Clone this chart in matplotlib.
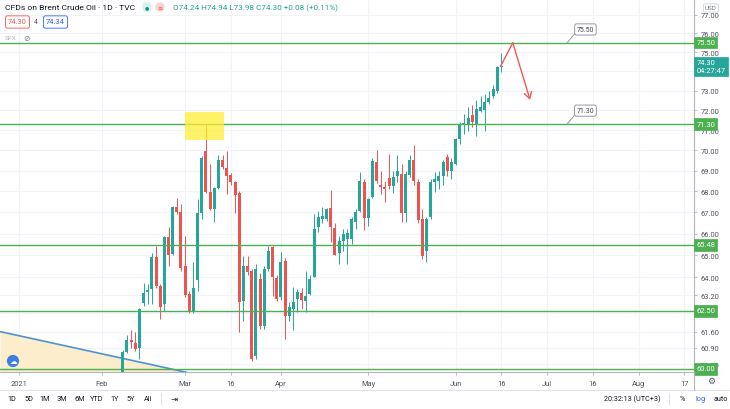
import matplotlib
matplotlib.use("Agg")
import matplotlib.pyplot as plt
import numpy as np
from matplotlib.patches import Rectangle
from matplotlib.lines import Line2D
from matplotlib.ticker import NullLocator, NullFormatter

plt.rcParams['font.family'] = ['Roboto', 'DejaVu Sans']

# Bougies journalières, index 0 = 8 fév. 2021, dernier = 16 juin 2021
opens = [59.55, 60.72, 61.25, 61.10, 60.88, 62.85, 63.33, 63.48, 64.92, 63.63,
         62.81, 65.84, 65.07, 67.24, 67.03, 64.53, 63.26, 62.46, 63.90, 66.97,
         69.98, 67.96, 67.16, 68.15, 69.53, 69.12, 68.79, 68.44, 67.93, 62.96,
         64.53, 64.30, 60.56, 63.93, 61.86, 64.38, 65.38, 63.96, 63.10, 64.76,
         62.30, 62.59, 63.03, 63.28, 62.95, 63.26, 64.00, 66.30, 66.69, 66.69,
         67.19, 66.25, 65.12, 65.68, 65.76, 65.76, 66.56, 67.08, 68.44, 66.72,
         67.72, 69.40, 68.30, 68.20, 68.63, 68.27, 68.76, 68.84, 66.99, 68.79,
         69.53, 68.44, 66.69, 65.22, 66.77, 68.44, 68.52, 68.76, 69.65, 68.96,
         69.33, 70.56, 71.26, 71.30, 71.76, 71.30, 71.96, 72.00, 72.43, 72.70,
         73.00, 74.24]
highs = [60.80, 61.43, 61.69, 61.60, 62.62, 63.75, 63.70, 65.10, 65.45, 63.70,
         65.90, 66.30, 67.30, 67.67, 67.40, 65.91, 63.40, 64.69, 67.64, 69.70,
         71.30, 69.33, 68.20, 69.78, 69.75, 69.98, 68.90, 68.50, 68.00, 64.99,
         64.99, 64.40, 64.60, 64.20, 64.53, 65.45, 65.45, 64.10, 65.15, 64.90,
         62.88, 63.55, 63.48, 63.50, 64.30, 64.10, 66.93, 67.08, 67.24, 67.20,
         68.04, 66.50, 65.90, 66.22, 66.22, 66.80, 67.16, 68.92, 68.60, 67.70,
         69.60, 70.00, 69.00, 68.50, 69.80, 69.00, 69.74, 69.33, 69.00, 69.74,
         70.26, 68.60, 67.16, 66.80, 68.60, 68.92, 69.00, 69.50, 69.82, 69.60,
         70.60, 71.40, 71.80, 72.15, 72.24, 72.50, 72.75, 72.84, 73.00, 73.28,
         74.30, 74.94]
lows = [59.40, 60.68, 60.90, 60.77, 60.42, 62.74, 62.80, 62.80, 63.50, 62.15,
        62.50, 64.53, 65.00, 66.90, 64.30, 63.10, 62.40, 62.40, 63.40, 66.70,
        67.90, 67.10, 66.53, 68.10, 69.10, 67.88, 68.30, 66.99, 61.58, 62.08,
        64.10, 60.35, 60.40, 61.70, 61.70, 64.30, 63.18, 62.95, 63.00, 61.28,
        62.08, 61.65, 62.45, 62.59, 62.45, 63.20, 64.00, 66.10, 66.50, 66.60,
        65.60, 65.00, 64.61, 65.22, 64.61, 65.50, 66.20, 67.00, 66.15, 66.38,
        67.70, 68.40, 67.88, 67.48, 68.10, 67.90, 68.44, 66.53, 66.53, 68.70,
        68.28, 66.50, 64.84, 64.69, 66.70, 67.96, 68.12, 68.28, 68.76, 68.60,
        69.25, 70.30, 70.81, 70.97, 71.14, 70.70, 71.90, 70.97, 72.30, 72.60,
        72.90, 73.98]
closes = [60.72, 61.25, 61.15, 60.85, 62.60, 63.30, 63.45, 64.92, 63.63, 62.66,
          65.84, 65.02, 67.24, 67.00, 64.41, 63.21, 62.46, 63.51, 66.97, 69.60,
          67.96, 67.16, 68.15, 69.53, 69.17, 68.76, 68.44, 67.80, 62.88, 64.53,
          64.26, 60.42, 64.38, 61.86, 64.38, 65.22, 64.00, 63.03, 64.69, 62.30,
          62.66, 62.91, 63.33, 63.00, 63.15, 63.93, 66.22, 66.77, 66.85, 67.16,
          66.30, 65.02, 65.68, 66.00, 66.03, 66.69, 67.00, 68.52, 66.74, 67.64,
          69.49, 68.50, 68.20, 68.10, 68.27, 68.68, 69.00, 66.99, 68.84, 69.53,
          68.52, 66.64, 64.99, 66.69, 68.44, 68.60, 68.76, 69.40, 69.00, 69.40,
          70.56, 71.26, 71.36, 71.60, 71.40, 72.05, 72.15, 72.40, 72.60, 73.06,
          74.22, 74.30]

niveaux = [75.50, 71.30, 65.48, 62.50, 60.00]
niveaux_notes = [75.50, 71.30]
prix_ticks = [77.0, 76.0, 75.0, 74.0, 73.0, 72.0, 71.0, 70.0, 69.0, 68.0, 67.0,
              66.0, 65.0, 64.0, 63.2, 62.4, 61.6, 60.9, 60.2]
prix_caches = [74.0, 62.4]  # labels masqués par les étiquettes de prix
date_ticks = [-25, -5, 15, 26, 38, 59, 80, 91, 102, 113, 124, 135]
date_labels = ['2021', 'Feb', 'Mar', '16', 'Apr', 'May', 'Jun', '16', 'Jul', '16', 'Aug', '17']

zone_x = [15.0, 24.0]
zone_prix = [70.56, 71.90]
tendance_x = [-29.5, 15.5]
tendance_y = [61.60, 59.85]
fleche_x = [90.8, 93.75, 97.9]
fleche_y = [74.26, 75.50, 72.53]

W, H = 730, 410
VERT = '#4caf50'
HAUSSE = '#26a69a'
BAISSE = '#ef5350'
GRIS = '#50535e'


def fxy(px, py):
    return px / W, 1 - py / H


fig = plt.figure(figsize=(W / 100, H / 100), dpi=100)
fig.patch.set_facecolor('white')
ax = fig.add_axes([0, 37 / H, 694 / W, 373 / H])
ax.set_yscale('log')
ax.set_xlim(-29.5, 137.3)
ax.set_ylim(59.87, 77.87)

# grille
ax.set_yticks(prix_ticks, labels=['' if p in prix_caches else f'{p:.2f}' for p in prix_ticks])
ax.yaxis.set_minor_locator(NullLocator())
ax.yaxis.set_minor_formatter(NullFormatter())
ax.set_xticks(date_ticks, labels=date_labels)
ax.grid(True, color='#f0f3fa', lw=0.8, zorder=0)
ax.set_axisbelow(True)
ax.yaxis.tick_right()
ax.tick_params(axis='y', direction='out', length=2.5, width=0.6, color='#b2b5be',
               labelsize=5.4, labelcolor=GRIS, pad=2)
ax.tick_params(axis='x', direction='out', length=2.5, width=0.6, color='#b2b5be',
               labelsize=5.4, labelcolor=GRIS, pad=3)
for s in ['top', 'left']:
    ax.spines[s].set_visible(False)
for s in ['right', 'bottom']:
    ax.spines[s].set_color('#b2b5be')
    ax.spines[s].set_linewidth(0.8)

# ligne de tendance + remplissage
ax.fill_between(tendance_x, tendance_y, 59.87, color='#fcedcd', lw=0, zorder=1)
ax.plot(tendance_x, tendance_y, color='#4e92d0', lw=1.2, zorder=2, solid_capstyle='butt')

# bougies
o = np.array(opens)
c = np.array(closes)
x = np.arange(len(o))
col = np.where(c >= o, HAUSSE, BAISSE)
ax.vlines(x, lows, highs, colors=col, lw=0.7, zorder=3)
ax.bar(x, np.maximum(np.abs(c - o), 0.03), bottom=np.minimum(o, c), width=0.72,
       color=col, lw=0, zorder=4)

# niveaux horizontaux
for n in niveaux:
    ax.axhline(n, color=VERT, lw=1.0, zorder=5)
    ax.text(1.0035, n, f'{n:.2f}', transform=ax.get_yaxis_transform(), ha='left', va='center',
            fontsize=5.4, color='white', clip_on=False, zorder=10,
            bbox=dict(boxstyle='square,pad=0.28', fc=VERT, ec=VERT, lw=0.5))

# notes des niveaux
for n in niveaux_notes:
    y_note = n * 1.0095
    ax.plot([106.8, 108.8], [n, y_note * 0.9975], color='#9598a1', lw=0.7, zorder=6)
    ax.text(111.2, y_note, f'{n:.2f}', ha='center', va='center', fontsize=5.0, color='#434651',
            zorder=7, bbox=dict(boxstyle='round,pad=0.3,rounding_size=0.3', fc='white',
                                ec='#9598a1', lw=0.7))

# zone jaune
ax.add_patch(Rectangle((zone_x[0], zone_prix[0]), zone_x[1] - zone_x[0], zone_prix[1] - zone_prix[0],
                       fc='#ffee33', ec='#ffee33', alpha=0.75, lw=0.5, zorder=6))

# flèche rouge
ax.plot(fleche_x[:2], fleche_y[:2], color='#f05a50', lw=1.0, zorder=7)
ax.annotate('', xy=(fleche_x[2], fleche_y[2]), xytext=(fleche_x[1], fleche_y[1]),
            arrowprops=dict(arrowstyle='->,head_length=0.45,head_width=0.28', color='#f05a50',
                            lw=1.0, shrinkA=0, shrinkB=0), zorder=7)

# prix courant
ax.text(1.0035, closes[-1] * 1.0048, f'{closes[-1]:.2f}\n04:27:47', transform=ax.get_yaxis_transform(),
        ha='left', va='top', fontsize=5.4, color='white', linespacing=1.15, clip_on=False, zorder=11,
        bbox=dict(boxstyle='square,pad=0.3', fc=HAUSSE, ec=HAUSSE, lw=0.5))

# --- interface ---
fig.text(*fxy(711, 9), 'USD', ha='center', va='center', fontsize=4.6, color='#787b86',
         bbox=dict(boxstyle='round,pad=0.25,rounding_size=0.2', fc='white', ec='#d1d4dc', lw=0.6))
fig.text(*fxy(5, 8), 'CFDs on Brent Crude Oil · 1D · TVC', ha='left', va='center',
         fontsize=6.1, color='#131722')
fig.text(*fxy(147, 8), '●', ha='center', va='center', fontsize=3.5, color='#089981',
         bbox=dict(boxstyle='round,pad=0.5,rounding_size=0.8', fc='#d8f1ee', ec='none'))
fig.text(*fxy(160, 8), '≡', ha='center', va='center', fontsize=4.5, color='#ef5350',
         bbox=dict(boxstyle='round,pad=0.35,rounding_size=0.8', fc='#fbd6d6', ec='none'))
fig.text(*fxy(173, 8), 'O74.24 H74.94 L73.98 C74.30 +0.08 (+0.11%)', ha='left', va='center',
         fontsize=5.9, color=HAUSSE)
fig.text(*fxy(17.5, 23), '74.30', ha='center', va='center', fontsize=5.4, color=BAISSE,
         bbox=dict(boxstyle='round,pad=0.35,rounding_size=0.25', fc='white', ec=BAISSE, lw=0.6))
fig.text(*fxy(36, 23), '4', ha='center', va='center', fontsize=5.0, color=GRIS)
fig.text(*fxy(55.5, 23), '74.34', ha='center', va='center', fontsize=5.4, color='#2962ff',
         bbox=dict(boxstyle='round,pad=0.35,rounding_size=0.25', fc='white', ec='#2962ff', lw=0.6))
fig.text(*fxy(5, 39), 'SPX', ha='left', va='center', fontsize=4.6, color='#b2b5be')
fig.text(*fxy(26, 39), '⊘', ha='center', va='center', fontsize=5.5, color='#787b86')
fig.text(*fxy(13, 362), '☁', ha='center', va='center', fontsize=5.5, color='white',
         bbox=dict(boxstyle='circle,pad=0.3', fc='#3d7fe0', ec='none'))

# barre du bas
fig.add_artist(Line2D([0, 1], [1 - 391 / H] * 2, color='#e0e3eb', lw=0.8))
fig.add_artist(Line2D([694 / W] * 2, [1 - 391 / H, 1 - 373 / H], color='#b2b5be', lw=0.8))
fig.text(*fxy(711, 381), '⚙', ha='center', va='center', fontsize=6.5, color='#50535e')
for lab, px in zip(['1D', '5D', '1M', '3M', '6M', 'YTD', '1Y', '5Y', 'All'],
                   [11.7, 29, 45, 62, 80, 97, 115, 131, 148]):
    fig.text(*fxy(px, 399.5), lab, ha='center', va='center', fontsize=5.2, color='#131722')
fig.add_artist(Line2D([161 / W] * 2, [1 - 394 / H, 1 - 405 / H], color='#e0e3eb', lw=0.8))
fig.text(*fxy(174, 399.5), '⇥', ha='center', va='center', fontsize=6, color='#131722')
fig.text(*fxy(632, 399.5), '20:32:13 (UTC+3)', ha='center', va='center', fontsize=5.2, color='#131722')
fig.add_artist(Line2D([669 / W] * 2, [1 - 394 / H, 1 - 405 / H], color='#e0e3eb', lw=0.8))
fig.text(*fxy(682, 399.5), '%', ha='center', va='center', fontsize=5.2, color='#131722')
fig.text(*fxy(700.5, 399.5), 'log', ha='center', va='center', fontsize=5.2, color='#2962ff')
fig.text(*fxy(720.5, 399.5), 'auto', ha='center', va='center', fontsize=5.2, color='#131722')

fig.savefig('out.png', dpi=100, facecolor='white')
